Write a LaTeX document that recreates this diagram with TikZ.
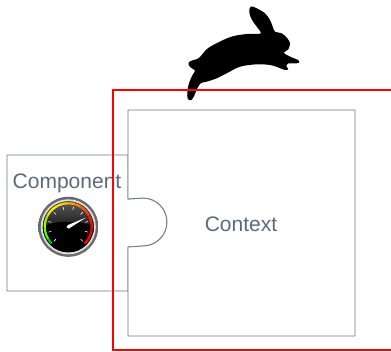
\documentclass[tikz,border=0pt]{standalone}
\usepackage{fontspec}
\setmainfont{Liberation Sans}
\usetikzlibrary{calc}
\definecolor{edgegray}{HTML}{6E7B8B}
\definecolor{labelgray}{HTML}{5B6A7C}
\definecolor{frame}{HTML}{FF0000}
\tikzset{
  puzzle/.style={draw=edgegray, line width=0.9pt, fill=white, line join=round},
  label/.style={text=labelgray, font=\fontsize{21}{24}\selectfont, inner sep=0pt},
  tick/.style={white, line width=0.6pt},
}
\begin{document}
\begin{tikzpicture}[x=1pt,y=-1pt]
\useasboundingbox (0,0) rectangle (391,351);
\clip (0,0) rectangle (391,351);

% component piece with its round tab
\path[puzzle] (7,155) -- (128,155) -- (128,199) -- (143,198)
  arc[start angle=-90, end angle=90, radius=24] -- (128,247)
  -- (128,291) -- (7,291) -- cycle;
% context piece with the matching notch
\path[puzzle] (128,110) -- (355,110) -- (355,336) -- (128,336) -- (128,247)
  -- (143,246) arc[start angle=90, end angle=-90, radius=24] -- (128,199) -- cycle;

\node[label] (comp) at (67,183) {Component};
\node[label] (ctx) at (241,224) {Context};

% gauge (local frame with y pointing up)
\begin{scope}[shift={(68.3,226.8)}, yscale=-1]
  \coordinate (g) at (0,0);
  \shade[inner color=gray!40, outer color=gray!80!black] (g) circle (30);
  \fill[gray!25] (g) circle (27.5);
  \fill[black] (g) circle (25.5);
  \begin{scope}
    \clip (g) circle (25.5);
    \shade[top color=gray!70!black, bottom color=black!90] (-26,-2) rectangle (26,26);
    \fill[black] (0,-3) ellipse (27 and 8);
    \fill[black] (-26,-3) rectangle (26,-27);
  \end{scope}
  % coloured scale: green - yellow - orange - red
  \foreach \a/\c in {225/green!80!black, 210/green!70!yellow, 195/green!60!yellow,
                     180/green!40!yellow, 165/yellow!70!green, 150/yellow!90!green,
                     135/yellow, 120/yellow!80!orange, 105/yellow!60!orange,
                     90/orange!70!yellow, 75/orange, 60/orange!70!red,
                     45/orange!50!red, 30/red!80!orange, 15/red!90!orange,
                     0/red, -15/red, -30/red}
    \draw[\c, line width=2.2pt] (\a:23.5) arc[start angle=\a, end angle=\a-15.5, radius=23.5];
  \foreach \a in {225,195,...,-45}
    \draw[tick] (\a:17.5) -- (\a:20.5);
  % needle
  \fill[white] (117.5:1.8) -- (27.5:20) -- (-62.5:1.8) -- cycle;
  \fill[white] (g) circle (1.8);
\end{scope}

% rabbit silhouette
\fill[black] plot[smooth cycle, tension=0.55] coordinates {
  (250.7,6.5) (256.7,8.3) (265,13.3) (270,20) (272.7,26.7) (275,31.7)
  (281.7,33.3) (287.3,38.3) (290,43.3) (288.3,49.3) (284,53)
  (292,57.5) (298.3,60) (299.3,62) (296.7,63.3) (288,63.5)
  (286.5,66.5) (288.3,69) (285,70) (277,67)
  (270,65) (256.7,64.3) (240,66.7) (226.7,73.3) (216.7,78.3) (206.7,81.7)
  (201,83) (197.5,88) (194.5,95) (191.5,100) (187.8,99) (187.3,92)
  (189,83) (192.5,75) (195,70.5) (190,67) (188.5,62.5) (193.5,60)
  (199,58) (207,49) (218,42.5) (232,36.5) (247,34) (260.5,33.5)
  (257,27) (252,20) (249.3,12.5) };

% red frame
\draw[frame, line width=2pt] (113,90) rectangle (400,350);
\end{tikzpicture}
\end{document}
